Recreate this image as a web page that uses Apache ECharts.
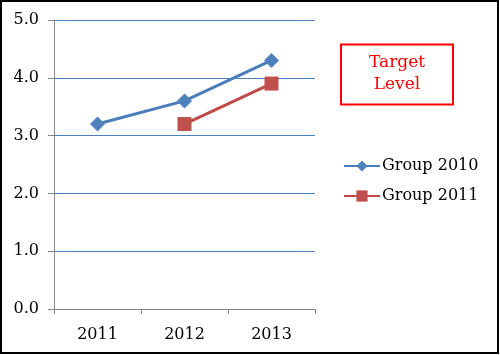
<!DOCTYPE html>
<html>
<head>
<meta charset="utf-8">
<script src="https://cdn.jsdelivr.net/npm/echarts@6/dist/echarts.min.js"></script>
<style>
* { margin: 0; padding: 0; }
body { background: #fff; }
#chart { width: 500px; height: 355px; }
</style>
</head>
<body>
<div id="chart"></div>
<script>
const years = ["2011", "2012", "2013"];
const group2010 = [3.2, 3.6, 4.3];
const group2011 = [null, 3.2, 3.9];
const yTicks = { min: 0, max: 5, step: 1 };

let chart = echarts.init(document.getElementById("chart"));
let serif = "DejaVu Serif";
let option = {
  animation: false,
  textStyle: { fontFamily: serif },
  grid: { left: 54, right: 185, top: 20, bottom: 46 },
  legend: {
    orient: "vertical",
    left: 338,
    top: 153,
    itemWidth: 36,
    itemHeight: 14,
    itemGap: 14,
    textStyle: { fontFamily: serif, fontSize: 16, color: "#000", padding: [0, 0, 0, -3] },
    data: ["Group 2010", "Group 2011"]
  },
  xAxis: {
    type: "category",
    data: years,
    boundaryGap: true,
    axisLine: { lineStyle: { color: "#868686" } },
    axisTick: { show: true, length: 5, lineStyle: { color: "#868686" } },
    axisLabel: { fontSize: 16, color: "#000", margin: 18, fontFamily: serif }
  },
  yAxis: {
    type: "value",
    min: yTicks.min,
    max: yTicks.max,
    interval: yTicks.step,
    axisLine: { show: true, lineStyle: { color: "#868686" } },
    axisTick: { show: true, length: 6, lineStyle: { color: "#868686" } },
    axisLabel: {
      fontSize: 16,
      color: "#000",
      margin: 15,
      fontFamily: serif,
      formatter: v => v.toFixed(1)
    },
    splitLine: { lineStyle: { color: "#4a7ebb", width: 1 } }
  },
  series: [
    {
      name: "Group 2010",
      type: "line",
      data: group2010,
      symbol: "diamond",
      symbolSize: 15,
      lineStyle: { color: "#4a7ebb", width: 3 },
      itemStyle: { color: "#4f81bd" }
    },
    {
      name: "Group 2011",
      type: "line",
      data: group2011,
      symbol: "rect",
      symbolSize: 14,
      lineStyle: { color: "#be4b48", width: 3 },
      itemStyle: { color: "#c0504d" }
    }
  ],
  graphic: [
    {
      type: "rect",
      shape: { x: 1, y: 1, width: 497, height: 352 },
      style: { fill: null, stroke: "#000", lineWidth: 2 },
      silent: true
    },
    {
      type: "rect",
      shape: { x: 341, y: 44.5, width: 112, height: 60 },
      style: { fill: "#fff", stroke: "#ff0000", lineWidth: 2 }
    },
    {
      type: "text",
      x: 397,
      y: 74,
      style: {
        text: "Target\nLevel",
        fill: "#ff0000",
        font: "17px 'DejaVu Serif'",
        lineHeight: 22,
        align: "center",
        verticalAlign: "middle"
      }
    }
  ]
};
chart.setOption(option);
</script>
</body>
</html>
